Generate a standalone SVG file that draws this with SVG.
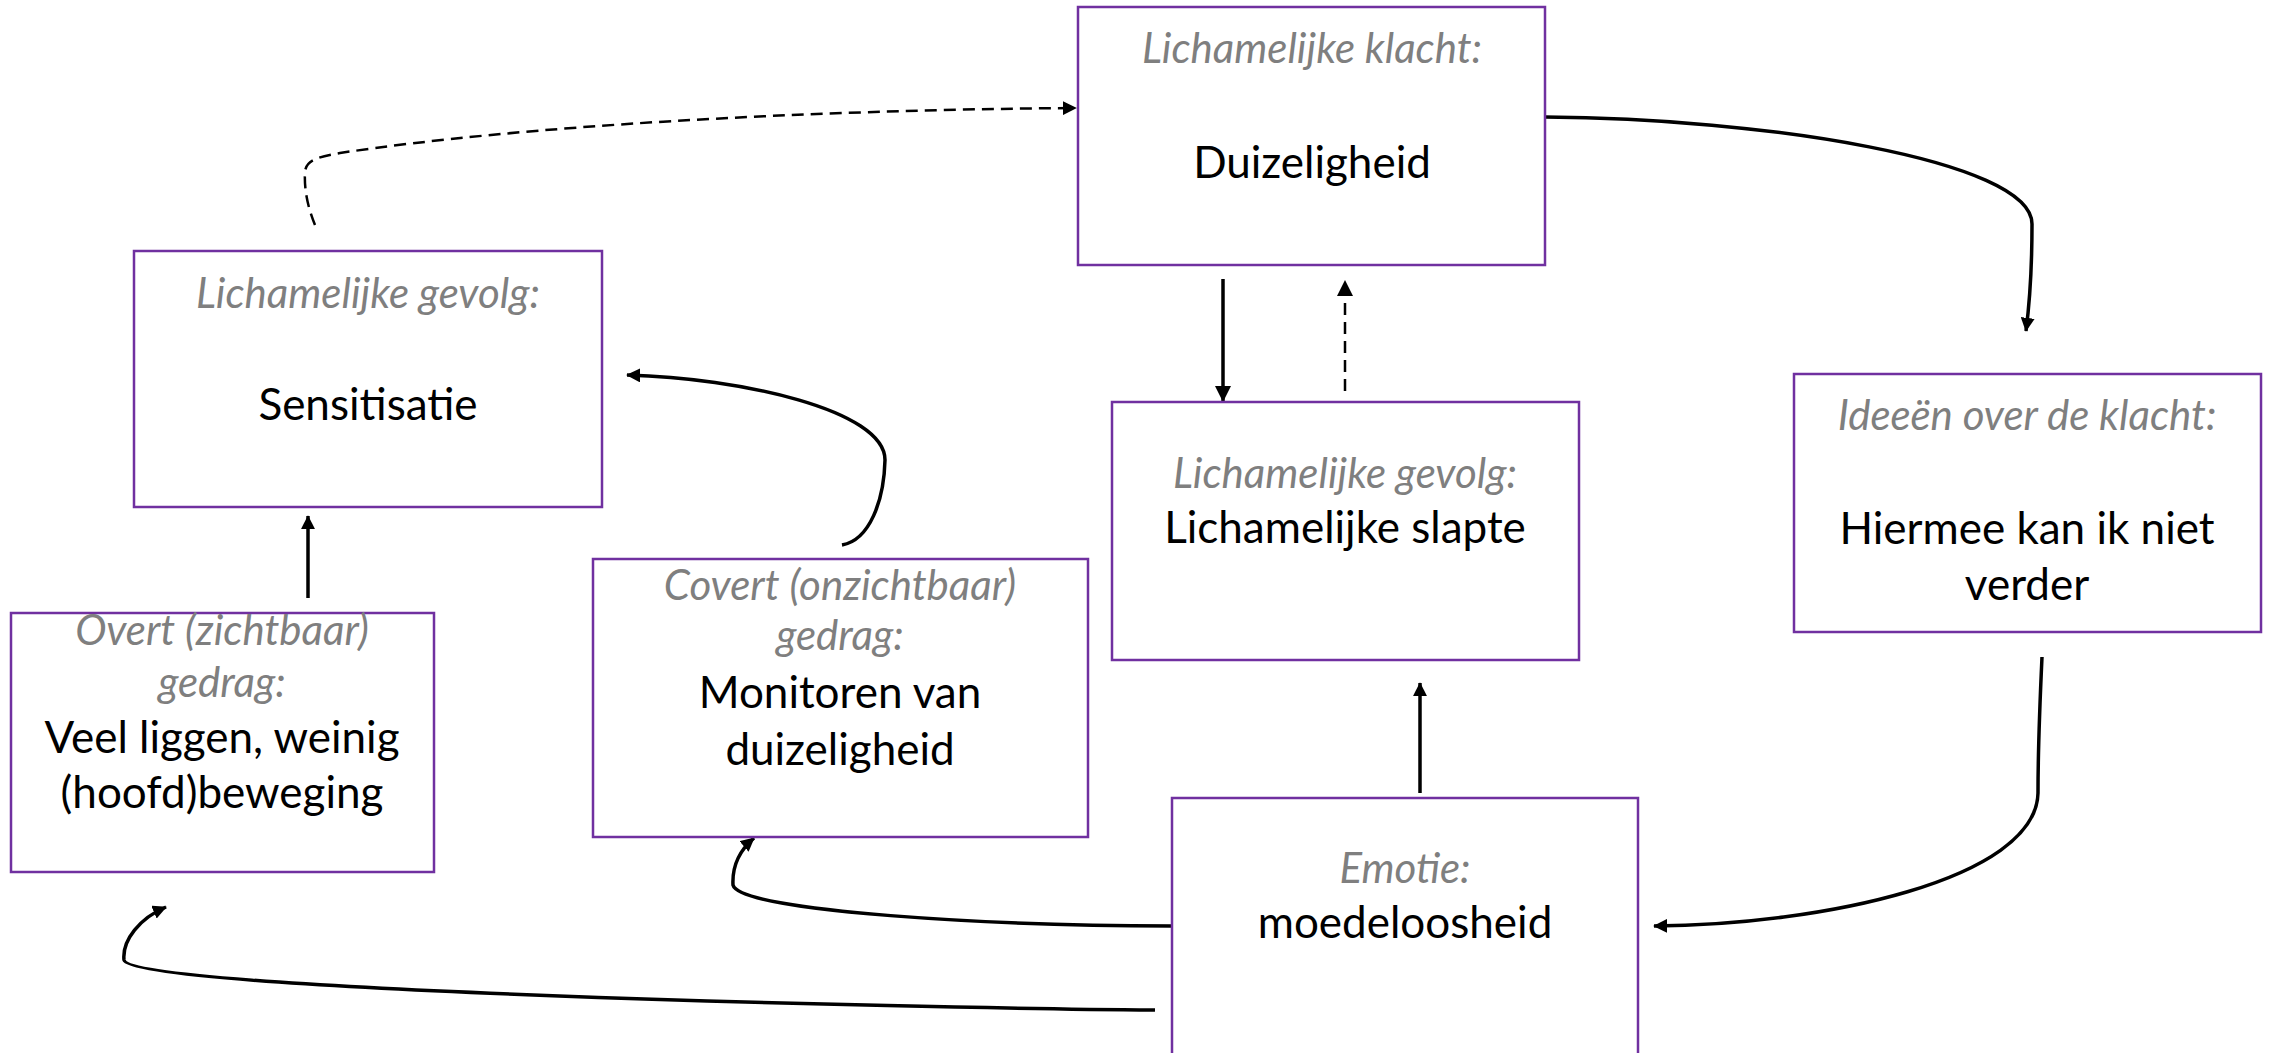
<svg xmlns="http://www.w3.org/2000/svg" width="2269" height="1053" viewBox="0 0 2269 1053">
  <style>
    .box { fill: #ffffff; stroke: #7030A0; stroke-width: 2.5; }
    .lbl { font-family: Lato, "Open Sans", sans-serif; font-style: italic; font-size: 42px; fill: #7F7F7F; text-anchor: middle; }
    .txt { font-family: Lato, "Open Sans", sans-serif; font-size: 44px; fill: #000000; text-anchor: middle; }
    .link { fill: none; stroke: #000000; stroke-width: 3.5; }
    .dash { fill: none; stroke: #000000; stroke-width: 2.5; stroke-dasharray: 12 7; }
  </style>
  <defs>
    <marker id="arrow" markerUnits="userSpaceOnUse" markerWidth="16" markerHeight="16" viewBox="0 0 16 16" refX="15" refY="8" orient="auto">
      <path d="M0,0 L16,8 L0,16 z" fill="#000000"/>
    </marker>
    <marker id="arrowSmall" markerUnits="userSpaceOnUse" markerWidth="14" markerHeight="14" viewBox="0 0 16 16" refX="15" refY="8" orient="auto">
      <path d="M0,0 L16,8 L0,16 z" fill="#000000"/>
    </marker>
  </defs>

  <rect width="2269" height="1053" fill="#ffffff"/>

  <!-- connectors -->
  <g id="connectors">
    <!-- Sensitisatie -> Duizeligheid (dashed) -->
    <path class="dash" d="M315,225 C308,208 304,190 305,172 C306,160 318,157 340,153 C520,126 800,110 1076,108" marker-end="url(#arrowSmall)"/>
    <!-- Duizeligheid -> Ideeën -->
    <path class="link" d="M1545,117 C1760,118 2032,160 2032,224 C2032,265 2030,300 2026,331" marker-end="url(#arrowSmall)"/>
    <!-- Duizeligheid -> Lichamelijke slapte -->
    <path class="link" d="M1223,279 L1223,401" marker-end="url(#arrow)"/>
    <!-- Lichamelijke slapte -> Duizeligheid (dashed) -->
    <path class="dash" d="M1345,391 L1345,281" marker-end="url(#arrow)"/>
    <!-- Ideeën -> Emotie -->
    <path class="link" d="M2042,657 C2040,700 2038,750 2038,793 C2036,880 1820,925 1654,926" marker-end="url(#arrowSmall)"/>
    <!-- Emotie -> Lichamelijke slapte -->
    <path class="link" d="M1420,793 L1420,683" marker-end="url(#arrowSmall)"/>
    <!-- Emotie -> Covert gedrag -->
    <path class="link" d="M1172,926 C1000,926 740,912 733,885 C732,865 740,850 754,838" marker-end="url(#arrowSmall)"/>
    <!-- Emotie -> Overt gedrag -->
    <path class="link" d="M1155,1010 C900,1008 130,990 124,960 C122,940 140,918 166,907" marker-end="url(#arrowSmall)"/>
    <!-- Covert gedrag -> Sensitisatie -->
    <path class="link" d="M842,545 C870,540 884,500 885,460 C885,410 740,378 627,375" marker-end="url(#arrowSmall)"/>
    <!-- Overt gedrag -> Sensitisatie -->
    <path class="link" d="M308,598 L308,516" marker-end="url(#arrowSmall)"/>
  </g>

  <!-- nodes -->
  <g id="node-klacht">
    <rect class="box" x="1078" y="7" width="467" height="258"/>
    <text class="lbl" x="1312" y="63">Lichamelijke klacht:</text>
    <text class="txt" x="1312" y="178">Duizeligheid</text>
  </g>

  <g id="node-sensitisatie">
    <rect class="box" x="134" y="251" width="468" height="256"/>
    <text class="lbl" x="368" y="308">Lichamelijke gevolg:</text>
    <text class="txt" x="368" y="420">Sensitisatie</text>
  </g>

  <g id="node-slapte">
    <rect class="box" x="1112" y="402" width="467" height="258"/>
    <text class="lbl" x="1345" y="488">Lichamelijke gevolg:</text>
    <text class="txt" x="1345" y="543">Lichamelijke slapte</text>
  </g>

  <g id="node-ideeen">
    <rect class="box" x="1794" y="374" width="467" height="258"/>
    <text class="lbl" x="2027" y="430">Ideeën over de klacht:</text>
    <text class="txt" x="2027" y="544">Hiermee kan ik niet</text>
    <text class="txt" x="2027" y="600">verder</text>
  </g>

  <g id="node-overt">
    <rect class="box" x="11" y="613" width="423" height="259"/>
    <text class="lbl" x="222" y="645">Overt (zichtbaar)</text>
    <text class="lbl" x="222" y="697">gedrag:</text>
    <text class="txt" x="222" y="753">Veel liggen, weinig</text>
    <text class="txt" x="222" y="808">(hoofd)beweging</text>
  </g>

  <g id="node-covert">
    <rect class="box" x="593" y="559" width="495" height="278"/>
    <text class="lbl" x="840" y="600">Covert (onzichtbaar)</text>
    <text class="lbl" x="840" y="650">gedrag:</text>
    <text class="txt" x="840" y="708">Monitoren van</text>
    <text class="txt" x="840" y="765">duizeligheid</text>
  </g>

  <g id="node-emotie">
    <rect class="box" x="1172" y="798" width="466" height="270"/>
    <text class="lbl" x="1405" y="883">Emotie:</text>
    <text class="txt" x="1405" y="938">moedeloosheid</text>
  </g>
</svg>
